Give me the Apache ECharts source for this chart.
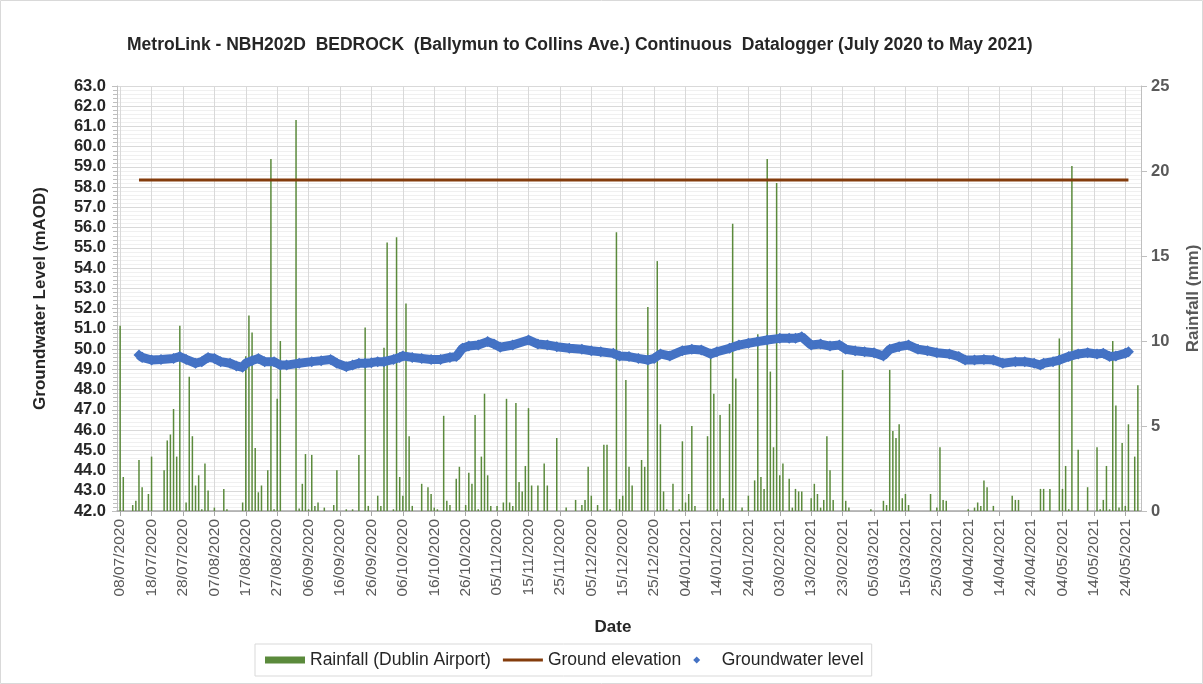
<!DOCTYPE html>
<html>
<head>
<meta charset="utf-8">
<script src="https://cdn.jsdelivr.net/npm/echarts@6/dist/echarts.min.js"></script>
<style>
  html, body { margin: 0; padding: 0; background: #fff; }
  #chart { width: 1203px; height: 684px; }
</style>
</head>
<body>
<div id="chart"></div>
<script>
// axis runs one day either side of the data: 07/07/2020 .. 29/05/2021
const startDay = Date.UTC(2020, 6, 7)
const dayCount = 327

// daily rainfall (mm), from 08/07/2020 (day 0) to 27/05/2021 (day 324)
const rainfall = [
  10.9, 2.0, 0, 0, 0.35, 0.6, 3.0, 1.4, 0, 1.0,
  3.2, 0, 0, 0, 2.4, 4.15, 4.5, 6.0, 3.2, 10.9,
  0, 0.5, 7.9, 4.4, 1.5, 2.1, 0.1, 2.8, 1.2, 0,
  0.2, 0, 0, 1.3, 0.1, 0, 0, 0, 0, 0.5,
  9.1, 11.5, 10.5, 3.7, 1.1, 1.5, 0, 2.4, 20.7, 0.1,
  6.6, 10.0, 0, 0, 0, 0, 23.0, 0.15, 1.6, 3.35,
  0.1, 3.3, 0.3, 0.5, 0, 0.2, 0, 0, 0.35, 2.4,
  0, 0, 0.1, 0, 0.1, 0, 3.3, 0, 10.8, 0.3,
  0, 0, 0.9, 0.3, 9.6, 15.8, 0, 0.1, 16.1, 2.0,
  0.9, 12.2, 4.4, 0.3, 0, 0, 1.6, 0, 1.4, 1.0,
  0.2, 0.1, 0, 5.6, 0.6, 0.35, 0, 1.9, 2.6, 0,
  0.35, 2.25, 1.6, 5.65, 0.1, 3.2, 6.9, 2.1, 0.3, 0,
  0.3, 0, 0.5, 6.6, 0.5, 0.3, 6.35, 1.7, 1.15, 2.65,
  6.05, 1.5, 0, 1.5, 0, 2.8, 1.5, 0, 0, 4.3,
  0, 0, 0.2, 0, 0, 0.65, 0, 0.35, 0.65, 2.6,
  0.9, 0, 0.35, 0, 3.9, 3.9, 0.1, 0, 16.4, 0.7,
  0.9, 7.7, 2.6, 1.5, 0, 0, 3.0, 2.6, 12.0, 0,
  0, 14.7, 5.1, 1.15, 0.1, 0, 1.6, 0, 0.1, 4.1,
  0.5, 1.0, 5.0, 0.3, 0, 0, 0, 4.4, 9.1, 6.9,
  0.1, 5.65, 0.75, 0, 6.3, 16.9, 7.8, 0, 0.2, 0,
  0.9, 0, 1.8, 10.4, 2.0, 1.3, 20.7, 8.2, 3.75, 19.3,
  2.1, 2.8, 0, 1.9, 0.2, 1.3, 1.15, 1.15, 0, 0,
  0.75, 1.6, 1.0, 0.2, 0.65, 4.4, 2.4, 0.65, 0, 0,
  8.3, 0.6, 0.2, 0, 0, 0, 0, 0, 0, 0.1,
  0, 0, 0, 0.6, 0.35, 8.3, 4.7, 4.3, 5.1, 0.75,
  1.0, 0.35, 0, 0, 0, 0, 0, 0, 1.0, 0,
  0.2, 3.75, 0.65, 0.6, 0, 0, 0, 0, 0, 0,
  0.1, 0, 0.2, 0.5, 0.3, 1.8, 1.4, 0, 0.3, 0,
  0, 0, 0, 0, 0.9, 0.65, 0.65, 0, 0, 0,
  0, 0, 0, 1.3, 1.3, 0, 1.3, 0, 0, 10.15,
  1.3, 2.65, 0.1, 20.3, 0, 3.6, 0, 0, 1.4, 0,
  0, 3.75, 0.1, 0.65, 2.65, 0.1, 10.0, 6.2, 0.2, 4.0,
  0.3, 5.1, 0, 3.2, 7.4
]

// groundwater level readings (mAOD), day number from 08/07/2020
const gwDay = [
  6, 7, 10, 13, 17, 19, 21, 24, 26, 28, 30, 32, 35, 37, 39, 40, 42, 44, 46, 49,
  51, 53, 57, 61, 64, 67, 69, 72, 74, 76, 78, 80, 82, 84, 87, 89, 90, 93, 96, 99, 102, 105,
  107, 109, 111, 114, 117, 119, 121, 125, 130, 133, 136, 139, 143, 147, 150, 153, 157, 159,
  162, 165, 168, 170, 172, 175, 179, 182, 185, 188, 190, 194, 197, 200, 203, 206, 210, 213,
  215, 217, 220, 223, 226, 229, 231, 234, 237, 240, 243, 245, 248, 251, 254, 257, 260, 264, 267,
  269, 272, 275, 278, 281, 285, 288, 291, 293, 294, 297, 299, 302, 305, 308, 311, 313, 315, 317, 320, 321
]
const gwLevel = [
  49.71, 49.59, 49.46, 49.49, 49.54, 49.63, 49.49, 49.30, 49.38, 49.59, 49.54, 49.38, 49.30, 49.17, 49.10, 49.30, 49.43, 49.54, 49.38, 49.38,
  49.21, 49.21, 49.30, 49.38, 49.43, 49.49, 49.30, 49.13, 49.21, 49.30, 49.30, 49.33, 49.38, 49.38, 49.49, 49.59, 49.66, 49.59, 49.54, 49.49, 49.49, 49.59,
  49.63, 50.04, 50.15, 50.20, 50.37, 50.25, 50.09, 50.20, 50.45, 50.25, 50.20, 50.12, 50.04, 49.99, 49.92, 49.87, 49.79, 49.66,
  49.63, 49.54, 49.46, 49.54, 49.76, 49.66, 49.92, 49.99, 49.96, 49.76, 49.87, 50.04, 50.20, 50.29, 50.37, 50.45, 50.53, 50.53,
  50.53, 50.61, 50.20, 50.25, 50.15, 50.20, 49.99, 49.92, 49.87, 49.82, 49.66, 49.99, 50.12, 50.20, 49.99, 49.92, 49.82, 49.76, 49.63,
  49.46, 49.46, 49.49, 49.46, 49.30, 49.38, 49.38, 49.30, 49.21, 49.30, 49.38, 49.46, 49.63, 49.76, 49.82, 49.76, 49.79, 49.63, 49.66, 49.79, 49.87
]

// ground elevation (mAOD), drawn from 14/07/2020 to 28/05/2021
const groundLevel = 58.35
const groundFrom = 6
const groundTo = 321

const pad = n => (n < 10 ? '0' : '') + n
const dates = []
for (let i = 0; i < dayCount; i++) {
  const d = new Date(startDay + i * 86400000)
  dates.push(pad(d.getUTCDate()) + '/' + pad(d.getUTCMonth() + 1) + '/' + d.getUTCFullYear())
}

// day n of the data sits at category index n + 1
const rainData = [null].concat(rainfall)
while (rainData.length < dayCount) rainData.push(null)
const gwData = gwDay.map((d, i) => [d + 1, gwLevel[i]])
const groundData = [[groundFrom + 1, groundLevel], [groundTo + 1, groundLevel]]

const every10 = idx => (idx - 1) % 10 === 0
const font = 'Liberation Sans, Arial, sans-serif'

const chart = echarts.init(document.getElementById('chart'))
chart.setOption({
  animation: false,
  textStyle: { fontFamily: font },
  graphic: [{
    type: 'rect',
    shape: { x: 0.5, y: 0.5, width: 1202, height: 683 },
    style: { fill: 'none', stroke: '#d9d9d9', lineWidth: 1 },
    silent: true
  }],
  title: {
    text: 'MetroLink - NBH202D  BEDROCK  (Ballymun to Collins Ave.) Continuous  Datalogger (July 2020 to May 2021)',
    left: 122,
    top: 31,
    textStyle: { fontFamily: font, fontSize: 17.5, fontWeight: 'bold', color: '#262626' }
  },
  legend: {
    left: 255,
    top: 644,
    padding: [7, 8, 7, 10],
    itemGap: 12,
    itemWidth: 40,
    itemHeight: 7,
    borderColor: '#d9d9d9',
    borderWidth: 1,
    textStyle: { fontFamily: font, fontSize: 17.5, color: '#262626' },
    data: [
      { name: 'Rainfall (Dublin Airport)', icon: 'rect' },
      { name: 'Ground elevation', icon: 'path://M0,0L40,0L40,3L0,3Z' },
      { name: 'Groundwater level', icon: 'path://M0,-1L1,0L0,1L-1,0Z' }
    ]
  },
  grid: { left: 117, right: 62, top: 86, bottom: 173, outerBoundsMode: 'none' },
  xAxis: {
    type: 'category',
    data: dates,
    boundaryGap: false,
    name: 'Date',
    nameLocation: 'middle',
    nameGap: 108,
    nameTextStyle: { fontFamily: font, fontSize: 17, fontWeight: 'bold', color: '#262626', padding: [0, 32, 0, 0] },
    axisLine: { lineStyle: { color: '#a6a6a6', width: 1.5 } },
    axisTick: { show: true, interval: every10, length: 5, lineStyle: { color: '#a6a6a6' } },
    axisLabel: { interval: every10, rotate: 90, margin: 8, fontFamily: font, fontSize: 15.5, color: '#595959' },
    splitLine: { show: true, interval: every10, lineStyle: { color: '#d9d9d9', width: 1 } }
  },
  yAxis: [
    {
      type: 'value',
      min: 42,
      max: 63,
      interval: 1,
      name: 'Groundwater Level (mAOD)',
      nameLocation: 'middle',
      nameGap: 68,
      nameRotate: 90,
      nameTextStyle: { fontFamily: font, fontSize: 17, fontWeight: 'bold', color: '#262626' },
      axisLine: { show: true, lineStyle: { color: '#bfbfbf' } },
      axisTick: { show: true, length: 5, lineStyle: { color: '#bfbfbf' } },
      minorTick: { show: true, splitNumber: 5, length: 4, lineStyle: { color: '#bfbfbf' } },
      axisLabel: { margin: 11, fontFamily: font, fontSize: 16.5, fontWeight: 'bold', color: '#262626', formatter: v => v.toFixed(1) },
      splitLine: { lineStyle: { color: '#d9d9d9' } },
      minorSplitLine: { show: true, lineStyle: { color: '#f0f0f0' } }
    },
    {
      type: 'value',
      min: 0,
      max: 25,
      interval: 5,
      position: 'right',
      name: 'Rainfall (mm)',
      nameLocation: 'middle',
      nameGap: 44,
      nameRotate: 90,
      nameTextStyle: { fontFamily: font, fontSize: 17, fontWeight: 'bold', color: '#595959' },
      axisLine: { show: true, lineStyle: { color: '#bfbfbf' } },
      axisTick: { show: true, length: 6, lineStyle: { color: '#bfbfbf' } },
      axisLabel: { margin: 10, fontFamily: font, fontSize: 16.5, fontWeight: 'bold', color: '#595959' },
      splitLine: { show: false }
    }
  ],
  series: [
    {
      name: 'Rainfall (Dublin Airport)',
      type: 'bar',
      yAxisIndex: 1,
      barWidth: 1.5,
      itemStyle: { color: '#5b8a3c' },
      data: rainData
    },
    {
      name: 'Ground elevation',
      type: 'line',
      symbol: 'none',
      lineStyle: { color: '#843c0c', width: 3 },
      itemStyle: { color: '#843c0c' },
      data: groundData
    },
    {
      name: 'Groundwater level',
      type: 'line',
      symbol: 'diamond',
      symbolSize: 11,
      showAllSymbol: true,
      lineStyle: { color: '#4472c4', width: 9 },
      itemStyle: { color: '#4472c4' },
      data: gwData
    }
  ]
})
</script>
</body>
</html>
